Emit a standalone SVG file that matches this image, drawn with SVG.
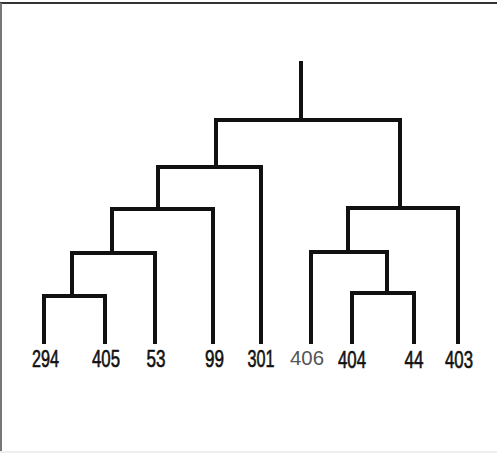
<svg xmlns="http://www.w3.org/2000/svg" width="497" height="453" viewBox="0 0 497 453">
<style>
.frame{stroke-width:2;fill:none}
.tree{fill:none;stroke:#111;stroke-width:4;stroke-linejoin:miter;stroke-linecap:square}
.lbl{font-family:"Liberation Sans",Arial,sans-serif;font-size:23px;fill:#111;stroke:#111;stroke-width:0.6;text-anchor:middle}
.lbl2{font-family:"Liberation Sans",Arial,sans-serif;font-size:21px;fill:#555;text-anchor:middle}
</style>
<rect width="497" height="453" fill="#fff"/>
<g id="frame">
<line class="frame" x1="0" y1="3" x2="497" y2="3" stroke="#333"/>
<line class="frame" x1="1" y1="3" x2="1" y2="453" stroke="#777"/>
<line class="frame" x1="0" y1="452" x2="497" y2="452" stroke="#eee"/>
</g>
<g id="connectors">
<path class="tree" d="M301,63 V120"/>
<path class="tree" d="M216,167 V120 H400 V207"/>
<path class="tree" d="M158,209 V167 H261 V342"/>
<path class="tree" d="M112,253 V209 H213 V342"/>
<path class="tree" d="M72,296 V253 H155 V342"/>
<path class="tree" d="M44,342 V296 H105 V342"/>
<path class="tree" d="M348,252 V208 H458 V342"/>
<path class="tree" d="M311,342 V252 H387 V293"/>
<path class="tree" d="M352,342 V293 H414 V342"/>
</g>
<g id="leaf-294"><text class="lbl" x="45.5" y="367" textLength="27" lengthAdjust="spacingAndGlyphs">294</text></g>
<g id="leaf-405"><text class="lbl" x="106" y="367" textLength="28" lengthAdjust="spacingAndGlyphs">405</text></g>
<g id="leaf-53"><text class="lbl" x="156" y="367" textLength="19" lengthAdjust="spacingAndGlyphs">53</text></g>
<g id="leaf-99"><text class="lbl" x="214.5" y="367" textLength="19" lengthAdjust="spacingAndGlyphs">99</text></g>
<g id="leaf-301"><text class="lbl" x="261" y="367" textLength="27" lengthAdjust="spacingAndGlyphs">301</text></g>
<g id="leaf-406"><text class="lbl2" x="307" y="365" textLength="34" lengthAdjust="spacingAndGlyphs">406</text></g>
<g id="leaf-404"><text class="lbl" x="352" y="368" textLength="28" lengthAdjust="spacingAndGlyphs">404</text></g>
<g id="leaf-44"><text class="lbl" x="414" y="368" textLength="19" lengthAdjust="spacingAndGlyphs">44</text></g>
<g id="leaf-403"><text class="lbl" x="459" y="368" textLength="28" lengthAdjust="spacingAndGlyphs">403</text></g>
</svg>
